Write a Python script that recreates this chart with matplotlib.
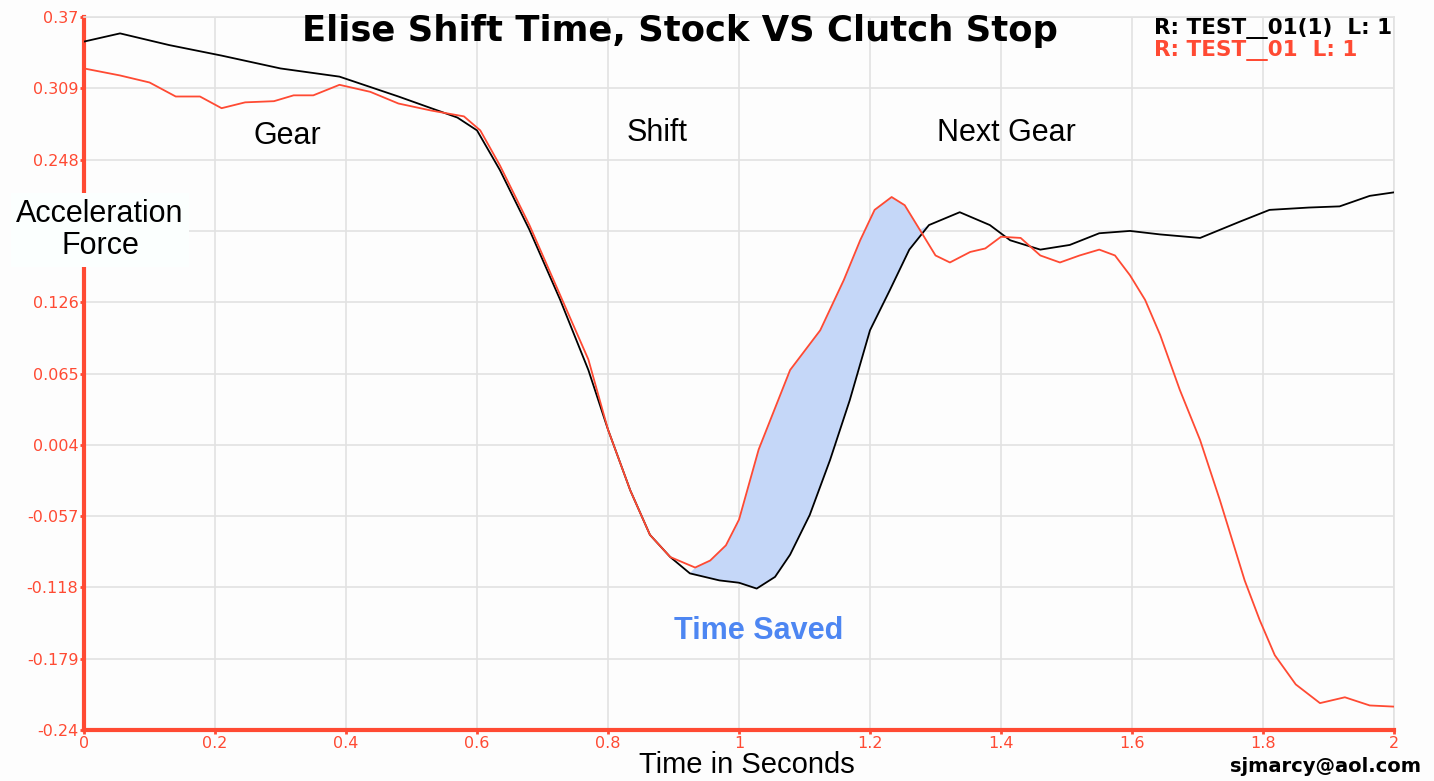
import numpy as np
import matplotlib.pyplot as plt

plt.rcParams['font.family'] = ['Liberation Sans', 'DejaVu Sans']

# black trace: TEST__01(1)
t_black = [0.0, 0.055, 0.13, 0.21, 0.30, 0.39, 0.48, 0.57, 0.60, 0.635, 0.68, 0.727,
           0.77, 0.80, 0.834, 0.864, 0.895, 0.925, 0.97, 1.0, 1.027, 1.055, 1.078,
           1.108, 1.139, 1.169, 1.20, 1.23, 1.26, 1.29, 1.337, 1.383, 1.414, 1.46,
           1.505, 1.55, 1.597, 1.643, 1.704, 1.765, 1.81, 1.87, 1.917, 1.963, 2.0]
a_black = [0.349, 0.356, 0.346, 0.337, 0.326, 0.319, 0.302, 0.284, 0.273, 0.239, 0.188, 0.128,
           0.068, 0.017, -0.035, -0.073, -0.092, -0.106, -0.112, -0.114, -0.119, -0.109, -0.090,
           -0.056, -0.009, 0.042, 0.102, 0.136, 0.171, 0.192, 0.203, 0.192, 0.179, 0.171,
           0.175, 0.185, 0.187, 0.184, 0.181, 0.195, 0.205, 0.207, 0.208, 0.217, 0.220]

# red trace: TEST__01
t_red = [0.0, 0.055, 0.10, 0.14, 0.177, 0.21, 0.246, 0.29, 0.32, 0.35, 0.39, 0.437,
         0.48, 0.53, 0.58, 0.605, 0.635, 0.68, 0.727, 0.77, 0.80, 0.834, 0.864, 0.895,
         0.933, 0.956, 0.98, 1.0, 1.03, 1.078, 1.124, 1.16, 1.185, 1.207, 1.233, 1.253,
         1.276, 1.30, 1.322, 1.353, 1.376, 1.40, 1.43, 1.46, 1.49, 1.52, 1.55, 1.574,
         1.597, 1.62, 1.643, 1.673, 1.704, 1.734, 1.772, 1.795, 1.818, 1.85, 1.887,
         1.925, 1.963, 2.0]
a_red = [0.326, 0.320, 0.314, 0.302, 0.302, 0.292, 0.297, 0.298, 0.303, 0.303, 0.312, 0.306,
         0.296, 0.290, 0.285, 0.273, 0.243, 0.192, 0.132, 0.077, 0.017, -0.035, -0.073, -0.092,
         -0.101, -0.095, -0.082, -0.060, 0.0, 0.068, 0.102, 0.145, 0.179, 0.205, 0.216, 0.209,
         0.188, 0.166, 0.160, 0.169, 0.172, 0.182, 0.181, 0.166, 0.160, 0.166, 0.171, 0.166,
         0.149, 0.128, 0.098, 0.051, 0.008, -0.043, -0.112, -0.146, -0.176, -0.201, -0.217,
         -0.212, -0.219, -0.220]

y_ticks = [0.37, 0.309, 0.248, 0.187, 0.126, 0.065, 0.004, -0.057, -0.118, -0.179, -0.24]
# the 0.187 label is hidden behind the "Acceleration Force" box in the original
y_labels = ['0.37', '0.309', '0.248', '', '0.126', '0.065', '0.004', '-0.057', '-0.118',
            '-0.179', '-0.24']
x_ticks = [0, 0.2, 0.4, 0.6, 0.8, 1.0, 1.2, 1.4, 1.6, 1.8, 2.0]
x_labels = ['0', '0.2', '0.4', '0.6', '0.8', '1', '1.2', '1.4', '1.6', '1.8', '2']

red = '#ff4a33'

fig = plt.figure(figsize=(14.34, 7.81), dpi=100)
fig.patch.set_facecolor('#fdfdfd')
ax = fig.add_axes([0.0586, 0.0653, 0.9135, 0.9129])
ax.set_facecolor('#fdfdfd')

# shaded "time saved" area between red and black
tb = np.array(t_black)
tr = np.array(t_red)
mb = (tb >= 0.925) & (tb <= 1.29)
mr = (tr >= 0.925) & (tr <= 1.29)
poly_x = np.concatenate([tr[mr], [1.29], tb[mb][::-1]])
poly_y = np.concatenate([np.array(a_red)[mr], [0.192], np.array(a_black)[mb][::-1]])
ax.fill(poly_x, poly_y, color='#c5d7f8', lw=0, zorder=1)

ax.plot(t_black, a_black, color='black', lw=1.3, zorder=3)
ax.plot(t_red, a_red, color=red, lw=1.3, zorder=3)

ax.set_xlim(0, 2)
ax.set_ylim(-0.24, 0.37)
ax.set_xticks(x_ticks)
ax.set_xticklabels(x_labels)
ax.set_yticks(y_ticks)
ax.set_yticklabels(y_labels)
ax.grid(True, color='#e2e2e2', lw=1.2)
ax.set_axisbelow(True)
ax.tick_params(colors=red, labelsize=11.5, length=3, width=2, pad=1)
for lbl in ax.get_xticklabels() + ax.get_yticklabels():
    lbl.set_family('DejaVu Sans')
for s in ['left', 'bottom']:
    ax.spines[s].set_color(red)
    ax.spines[s].set_linewidth(3)
for s in ['top', 'right']:
    ax.spines[s].set_color('#e2e2e2')
    ax.spines[s].set_linewidth(1.2)

ax.text(0.31, 0.268, 'Gear', fontsize=22, ha='center', va='center')
ax.text(0.875, 0.271, 'Shift', fontsize=22, ha='center', va='center')
ax.text(1.409, 0.271, 'Next Gear', fontsize=22, ha='center', va='center')
ax.text(1.03, -0.155, 'Time Saved', fontsize=22, fontweight='bold', color='#4d86f2',
        ha='center', va='center')

fig.text(0.0697, 0.7055, 'Acceleration\nForce', fontsize=22, ha='center', va='center',
         linespacing=1.1, bbox=dict(facecolor='#fbfffe', edgecolor='none', pad=4))
fig.text(0.474, 0.960, 'Elise Shift Time, Stock VS Clutch Stop', fontsize=25.5,
         fontweight='bold', family='DejaVu Sans', ha='center', va='center')
fig.text(0.805, 0.963, 'R: TEST__01(1)  L: 1', fontsize=15.5, fontweight='bold',
         family='DejaVu Sans', color='black', ha='left', va='center')
fig.text(0.805, 0.935, 'R: TEST__01  L: 1', fontsize=15.5, fontweight='bold',
         family='DejaVu Sans', color=red, ha='left', va='center')
fig.text(0.521, 0.0205, 'Time in Seconds', fontsize=21, ha='center', va='center')
fig.text(0.924, 0.018, 'sjmarcy@aol.com', fontsize=14, fontweight='bold',
         family='DejaVu Sans', ha='center', va='center')

fig.savefig('out.png', dpi=100, facecolor=fig.get_facecolor())
